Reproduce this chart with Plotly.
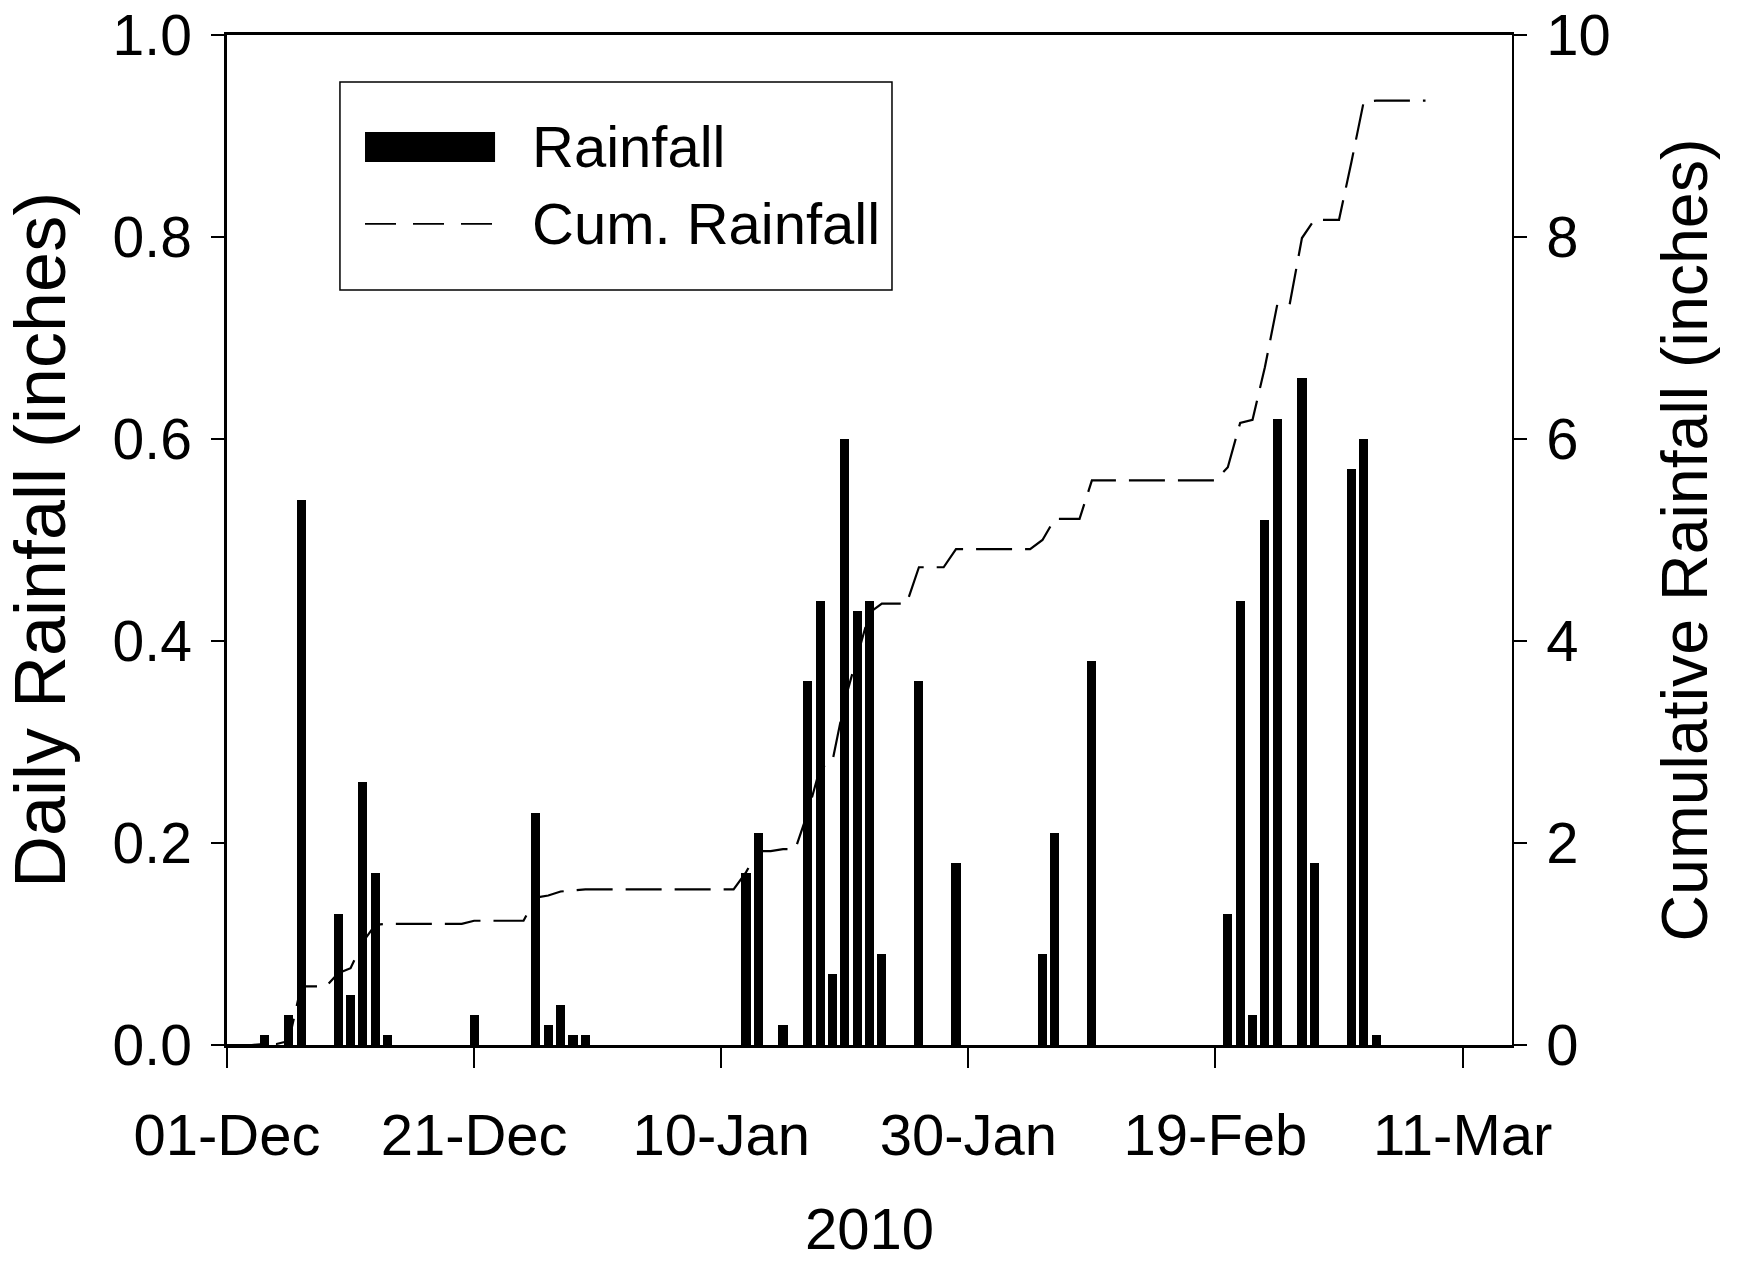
import plotly.graph_objects as go
import pandas as pd

# Daily rainfall (inches)
rain_dates = [
    "2009-12-04", "2009-12-06", "2009-12-07", "2009-12-10", "2009-12-11",
    "2009-12-12", "2009-12-13", "2009-12-14", "2009-12-21", "2009-12-26",
    "2009-12-27", "2009-12-28", "2009-12-29", "2009-12-30",
    "2010-01-12", "2010-01-13", "2010-01-15", "2010-01-17", "2010-01-18",
    "2010-01-19", "2010-01-20", "2010-01-21", "2010-01-22", "2010-01-23",
    "2010-01-26", "2010-01-29",
    "2010-02-05", "2010-02-06", "2010-02-09", "2010-02-20", "2010-02-21",
    "2010-02-22", "2010-02-23", "2010-02-24", "2010-02-26", "2010-02-27",
    "2010-03-02", "2010-03-03", "2010-03-04",
]
rain_values = [
    0.01, 0.03, 0.54, 0.13, 0.05,
    0.26, 0.17, 0.01, 0.03, 0.23,
    0.02, 0.04, 0.01, 0.01,
    0.17, 0.21, 0.02, 0.36, 0.44,
    0.07, 0.60, 0.43, 0.44, 0.09,
    0.36, 0.18,
    0.09, 0.21, 0.38, 0.13, 0.44,
    0.03, 0.52, 0.62, 0.66, 0.18,
    0.57, 0.60, 0.01,
]

# Cumulative rainfall period (running total of the daily values)
cum_start = "2009-12-01"
cum_end = "2010-03-08"

tick_dates = ["2009-12-01", "2009-12-21", "2010-01-10", "2010-01-30", "2010-02-19", "2010-03-11"]
tick_labels = ["01-Dec", "21-Dec", "10-Jan", "30-Jan", "19-Feb", "11-Mar"]

y_left_ticks = [0.0, 0.2, 0.4, 0.6, 0.8, 1.0]
y_right_ticks = [0, 2, 4, 6, 8, 10]

daily = pd.Series(rain_values, index=pd.to_datetime(rain_dates))
days = pd.date_range(cum_start, cum_end, freq="D")
cum = daily.reindex(days, fill_value=0.0).cumsum()

FONT = "Liberation Sans, Arial, sans-serif"
DAY_MS = 86400000

fig = go.Figure()
fig.add_trace(go.Bar(
    x=pd.to_datetime(rain_dates), y=rain_values, name="Rainfall",
    marker=dict(color="black", line=dict(width=0)),
    width=0.74 * DAY_MS, showlegend=False,
))
fig.add_trace(go.Scatter(
    x=days, y=cum.values, name="Cum. Rainfall", yaxis="y2", mode="lines",
    line=dict(color="black", width=2.2, dash="36px,13px"), showlegend=False,
))

fig.update_layout(
    width=1741, height=1261,
    margin=dict(l=227, r=229, t=35, b=216),
    paper_bgcolor="white", plot_bgcolor="white",
    font=dict(family=FONT, color="black", size=58),
    bargap=0,
    xaxis=dict(
        type="date", range=["2009-12-01", "2010-03-15"], automargin=False,
        tickvals=tick_dates, ticktext=tick_labels,
        ticks="outside", ticklen=20, tickwidth=2, tickcolor="black",
        showline=True, linecolor="black", linewidth=2.5, mirror=True,
        showgrid=False, zeroline=False, ticklabeloverflow="allow",
        tickfont=dict(size=58), ticklabelstandoff=18,
        title=dict(text="2010", font=dict(size=58), standoff=45),
    ),
    yaxis=dict(
        range=[0, 1], tickvals=y_left_ticks, tickformat=".1f", automargin=False,
        ticks="outside", ticklen=13, tickwidth=2, tickcolor="black",
        showline=True, linecolor="black", linewidth=2.5,
        showgrid=False, zeroline=False, ticklabeloverflow="allow",
        tickfont=dict(size=57), ticklabelstandoff=8,
        title=dict(text="Daily Rainfall (inches)", font=dict(size=72), standoff=30),
    ),
    yaxis2=dict(
        range=[0, 10], tickvals=y_right_ticks, overlaying="y", side="right", automargin=False,
        ticks="outside", ticklen=13, tickwidth=1.5, tickcolor="black",
        showline=True, linecolor="black", linewidth=1.5,
        showgrid=False, zeroline=False, ticklabeloverflow="allow",
        tickfont=dict(size=58), ticklabelstandoff=8,
        title=dict(text="Cumulative Rainfall (inches)", font=dict(size=64.5), standoff=52),
    ),
)

# Legend drawn as a framed box, as in the reference
fig.add_shape(type="rect", xref="paper", yref="paper", x0=0.0879, x1=0.5175, y0=0.7475, y1=0.9535,
              line=dict(color="black", width=1.5), fillcolor="white", layer="below")
fig.add_shape(type="rect", xref="paper", yref="paper", x0=0.1074, x1=0.2086, y0=0.8743, y1=0.904,
              line=dict(width=0), fillcolor="black")
fig.add_shape(type="line", xref="paper", yref="paper", x0=0.1074, x1=0.2086, y0=0.8129, y1=0.8129,
              line=dict(color="black", width=1.7, dash="31px,17px"))
fig.add_annotation(xref="paper", yref="paper", x=0.2358, y=0.890, xanchor="left", yanchor="middle",
                   text="Rainfall", showarrow=False, font=dict(size=58))
fig.add_annotation(xref="paper", yref="paper", x=0.2358, y=0.8129, xanchor="left", yanchor="middle",
                   text="Cum. Rainfall", showarrow=False, font=dict(size=58))

fig.write_html("out.html", config={"displayModeBar": False},
               post_script="document.body.style.margin='0';")
